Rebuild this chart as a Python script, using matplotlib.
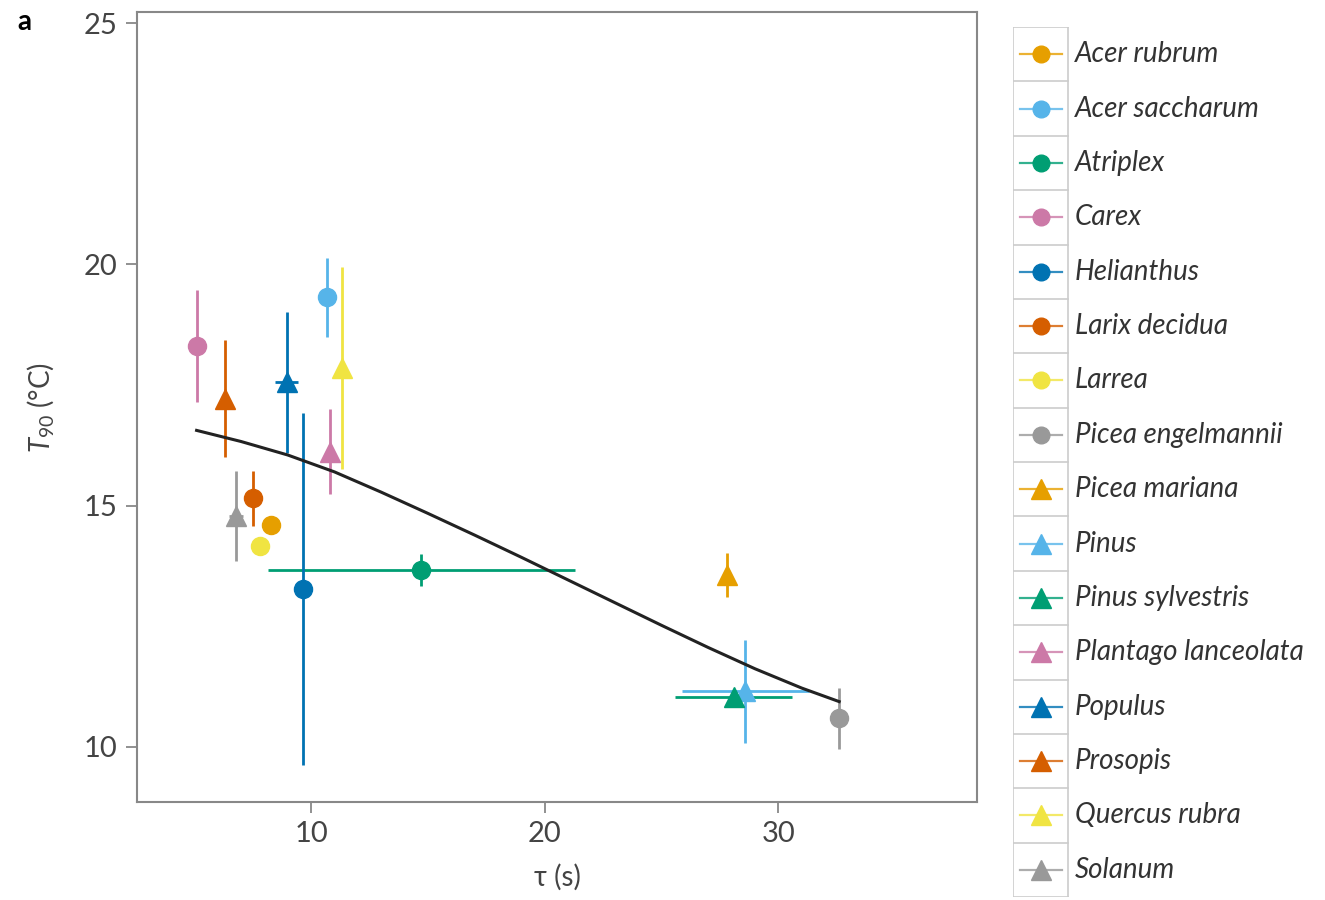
import matplotlib
matplotlib.use("Agg")
import matplotlib.pyplot as plt
import numpy as np

plt.rcParams['font.family'] = ['Lato', 'DejaVu Sans']
plt.rcParams['mathtext.fontset'] = 'custom'
plt.rcParams['mathtext.it'] = 'Lato:italic'
plt.rcParams['mathtext.rm'] = 'Lato'

# species data
species = ["Acer rubrum", "Acer saccharum", "Atriplex", "Carex", "Helianthus",
           "Larix decidua", "Larrea", "Picea engelmannii", "Picea mariana", "Pinus",
           "Pinus sylvestris", "Plantago lanceolata", "Populus", "Prosopis",
           "Quercus rubra", "Solanum"]
tau = [8.27, 10.67, 14.71, 5.12, 9.66, 7.53, 7.82, 32.61, 27.80, 28.59,
       28.09, 10.81, 8.96, 6.32, 11.31, 6.79]
t90 = [14.60, 19.32, 13.66, 18.30, 13.27, 15.15, 14.16, 10.59, 13.56, 11.15,
       11.04, 16.12, 17.56, 17.22, 17.85, 14.78]
tau_err = [0, 0, 6.57, 0, 0, 0, 0, 0, 0, 2.7, 2.5, 0, 0.5, 0, 0, 0.3]
t90_err = [0.0, 0.82, 0.33, 1.16, 3.65, 0.57, 0.0, 0.64, 0.45, 1.07,
           0.0, 0.88, 1.46, 1.22, 2.1, 0.93]
colors = ["#E69F00", "#56B4E9", "#009E73", "#CC79A7", "#0072B2", "#D55E00",
          "#F0E442", "#999999"] * 2
markers = ["o"] * 8 + ["^"] * 8

# fitted curve
fit_tau = [5.1, 7, 9, 11, 13, 15, 17, 19, 21, 23, 25, 27, 29, 31, 32.6]
fit_t90 = [16.56, 16.33, 16.05, 15.70, 15.28, 14.84, 14.39, 13.93, 13.46,
           12.99, 12.52, 12.06, 11.62, 11.22, 10.94]

fig = plt.figure(figsize=(13.25, 9), dpi=100)
ax = fig.add_axes([0.1034, 0.1089, 0.634, 0.8778])

for i in range(len(species)):
    ax.errorbar(tau[i], t90[i], xerr=tau_err[i] or None, yerr=t90_err[i] or None,
                fmt=markers[i], color=colors[i], ms=13 if markers[i] == "o" else 15,
                elinewidth=2.0, ecolor=colors[i], capsize=0, zorder=3)

ax.plot(fit_tau, fit_t90, color="#222222", lw=2.2, zorder=4, solid_joinstyle="round")

ax.set_xlim(2.55, 38.5)
ax.set_ylim(8.86, 25.23)
ax.set_xticks([10, 20, 30])
ax.set_yticks([10, 15, 20, 25])
for s in ax.spines.values():
    s.set_color("#888888")
    s.set_linewidth(1.5)
ax.tick_params(direction="out", length=8, width=1.3, color="#888888",
               labelsize=21, labelcolor="#444444", pad=6)
ax.set_xlabel("τ (s)", fontsize=20, color="#444444", labelpad=12)
ax.set_ylabel("$T_{90}$ (°C)", fontsize=20, color="#444444", labelpad=20)
fig.text(0.013, 0.976, "a", fontsize=20, fontweight="bold", va="center")

# legend drawn as a boxed column
n = len(species)
lg = fig.add_axes([0.7645, 0.0033, 0.2219, 0.9667])
lg.set_xlim(0, 1)
lg.set_ylim(n, 0)
lg.axis("off")
for i in range(n):
    yc = i + 0.5
    lg.plot([0.024, 0.167], [yc, yc], color=colors[i], lw=1.6, alpha=0.8)
    lg.plot(0.095, yc, marker=markers[i], color=colors[i],
            ms=12 if markers[i] == "o" else 14, ls="none")
    lg.text(0.211, yc, species[i], fontsize=20, style="italic", color="#333333",
            va="center", ha="left")
for k in range(n + 1):
    lg.plot([0, 0.187], [k, k], color="#cccccc", lw=1.2)
lg.plot([0, 0], [0, n], color="#cccccc", lw=1.2)
lg.plot([0.187, 0.187], [0, n], color="#cccccc", lw=1.2)

fig.savefig("out.png", dpi=100)
